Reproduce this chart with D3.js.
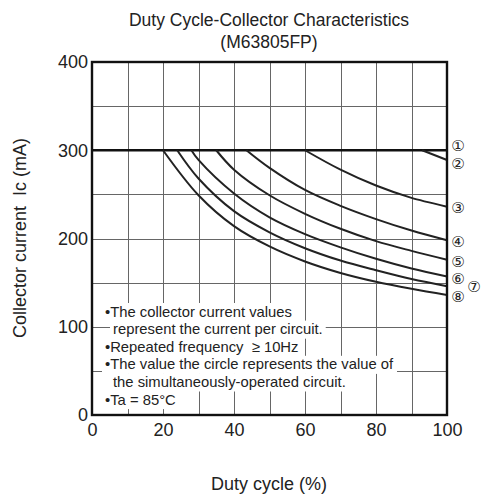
<!DOCTYPE html>
<html><head><meta charset="utf-8">
<script src="https://cdn.jsdelivr.net/npm/d3@7"></script>
<style>
html,body{margin:0;padding:0;background:#fff;}
svg text{font-family:"Liberation Sans",Arial,Helvetica,sans-serif;fill:#222;}
</style></head>
<body>
<svg id="c" width="483" height="497"></svg>
<script>
const titleLines = ["Duty Cycle-Collector Characteristics", "(M63805FP)"];
const xLabel = "Duty cycle (%)";
const yLabel = "Collector current\u00a0 Ic (mA)";
const xTicks = [0, 20, 40, 60, 80, 100];
const yTicks = [0, 100, 200, 300, 400];
const xGrid = [10, 20, 30, 40, 50, 60, 70, 80, 90];
const yGrid = [50, 100, 150, 200, 250, 350];

// curves: [duty %, Ic mA]
const curve1 = [[0,300],[100,300]];
const curve2 = [[93,300],[100,289]];
const curve3 = [[60,300],[70,278],[80,260],[90,246],[100,236]];
const curve4 = [[43.5,300],[50,280],[60,255],[70,237],[80,222],[90,209],[100,198]];
const curve5 = [[35,300],[40,278],[50,249],[60,228],[70,211],[80,197],[90,186],[100,176]];
const curve6 = [[28,300],[30,289],[40,251],[50,224],[60,205],[70,190],[80,177],[90,166],[100,157]];
const curve7 = [[24,300],[30,268],[40,231],[50,207],[60,189],[70,175],[80,164],[90,154],[100,146]];
const curve8 = [[20,300],[30,249],[40,214],[50,191],[60,174],[70,161],[80,151],[90,143],[100,136]];
const curves = [curve2, curve3, curve4, curve5, curve6, curve7, curve8];

const circleLabels = ["\u2460","\u2461","\u2462","\u2463","\u2464","\u2465","\u2466","\u2467"];
const circleLabelIc = [305, 285, 235, 197, 174, 154, 145, 134];

const notes = [
  "\u2022The collector current values",
  "  represent the current per circuit.",
  "\u2022Repeated frequency \u00a0\u2265 10Hz",
  "\u2022The value the circle represents the value of",
  "  the simultaneously-operated circuit.",
  "\u2022Ta = 85\u00b0C"
];

const svg = d3.select("#c");
const L = 92, R = 447, T = 62, B = 415;
const x = d3.scaleLinear().domain([0,100]).range([L,R]);
const y = d3.scaleLinear().domain([0,400]).range([B,T]);

// grid
const g = svg.append("g");
g.selectAll("line.vx").data(xGrid).join("line")
  .attr("x1", d=>Math.round(x(d))+0.5).attr("x2", d=>Math.round(x(d))+0.5)
  .attr("y1", T).attr("y2", B).attr("stroke","#666").attr("stroke-width",1);
g.selectAll("line.hy").data(yGrid).join("line")
  .attr("y1", d=>Math.round(y(d))+0.5).attr("y2", d=>Math.round(y(d))+0.5)
  .attr("x1", L).attr("x2", R).attr("stroke","#666").attr("stroke-width",1);

// notes with white backing
const ng = svg.append("g");
const noteY0 = 316.5, noteDy = 17.6;
notes.forEach((t,i)=>{
  const indent = t.startsWith("  ");
  const txt = ng.append("text")
    .attr("x", indent ? 113 : 105)
    .attr("y", noteY0 + i*noteDy)
    .attr("font-size", "14.8px")
    .text(indent ? t.trim() : t);
  const bb = txt.node().getBBox();
  ng.insert("rect", "text")
    .attr("x", bb.x - 3).attr("y", noteY0 + i*noteDy - 13.5)
    .attr("width", bb.width + 6).attr("height", noteDy + 0.5)
    .attr("fill", "#fff");
});

// curves
const line = d3.line().x(d=>x(d[0])).y(d=>y(d[1])).curve(d3.curveCatmullRom.alpha(0.5));
svg.append("path").datum(curve1).attr("d", line)
  .attr("fill","none").attr("stroke","#111").attr("stroke-width",2.4);
svg.selectAll("path.cv").data(curves).join("path").attr("class","cv")
  .attr("d", line).attr("fill","none").attr("stroke","#222").attr("stroke-width",2);

// frame
svg.append("rect").attr("x",L).attr("y",T).attr("width",R-L).attr("height",B-T)
  .attr("fill","none").attr("stroke","#111").attr("stroke-width",2.4);

// axes labels via d3 axes (no tick lines)
const xa = svg.append("g").attr("transform",`translate(0,${B})`)
  .call(d3.axisBottom(x).tickValues(xTicks).tickSize(0).tickPadding(8).tickFormat(d3.format("d")));
xa.select(".domain").remove();
xa.selectAll("text").attr("font-size","18px").attr("fill","#222")
  .style("font-family","'Liberation Sans',Arial,sans-serif");
const ya = svg.append("g").attr("transform",`translate(${L},0)`)
  .call(d3.axisLeft(y).tickValues(yTicks).tickSize(0).tickPadding(4).tickFormat(d3.format("d")));
ya.select(".domain").remove();
ya.selectAll("text").attr("font-size","18px").attr("fill","#222")
  .style("font-family","'Liberation Sans',Arial,sans-serif");

// circled labels
svg.selectAll("text.cl").data(circleLabels).join("text").attr("class","cl")
  .attr("x", (d,i)=> i===6 ? 474 : 458)
  .attr("y", (d,i)=> y(circleLabelIc[i]))
  .attr("dy","0.36em")
  .attr("text-anchor","middle")
  .attr("font-size","15px")
  .style("font-family","'DejaVu Sans',sans-serif")
  .text(d=>d);

// titles
svg.selectAll("text.tt").data(titleLines).join("text").attr("class","tt")
  .attr("x", 269).attr("y",(d,i)=> 26 + i*21.5)
  .attr("text-anchor","middle").attr("font-size","17.5px").text(d=>d);

svg.append("text").attr("x", 269).attr("y", 490).attr("text-anchor","middle")
  .attr("font-size","18px").text(xLabel);
svg.append("text").attr("transform","translate(26,238) rotate(-90)")
  .attr("text-anchor","middle").attr("font-size","18px").text(yLabel);
</script>
</body></html>
